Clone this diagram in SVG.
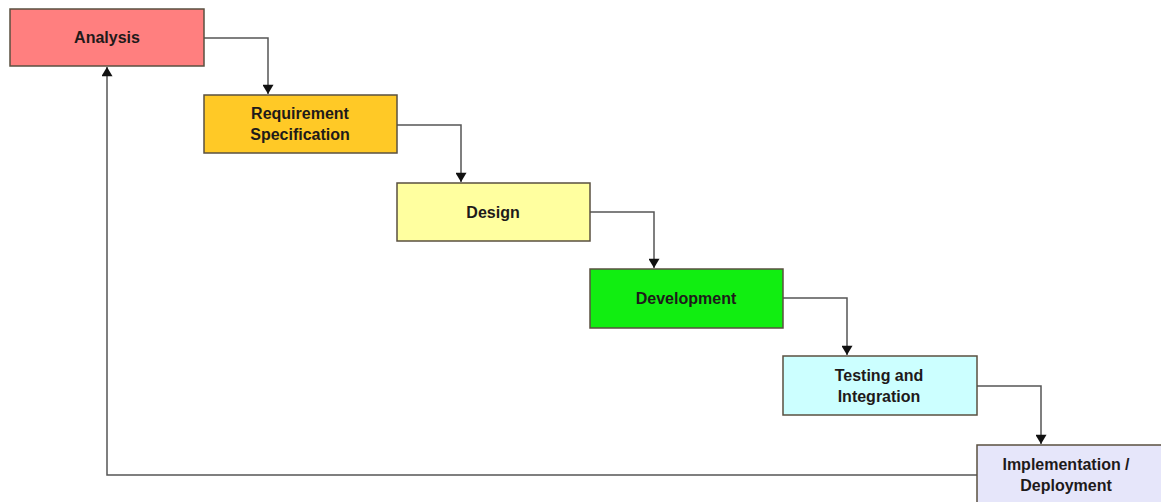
<svg xmlns="http://www.w3.org/2000/svg" width="1161" height="502" viewBox="0 0 1161 502">
<defs>
<style>
.box{stroke:#5a5040;stroke-width:1.5}
.lbl{font-family:"Liberation Sans",Arial,sans-serif;font-weight:bold;font-size:16px;fill:#1e1a1a;text-anchor:middle}
.con{fill:none;stroke:#555;stroke-width:1.5}
</style>
<marker id="ah" viewBox="0 0 10 12" refX="10" refY="6" markerWidth="12" markerHeight="11" orient="auto" markerUnits="userSpaceOnUse"><path d="M0,0 L10,6 L0,12 Z" fill="#111"/></marker>
</defs>
<rect width="1161" height="502" fill="#fff"/>
<g id="connectors">
<path class="con" d="M204,38 H268 V94" marker-end="url(#ah)"/>
<path class="con" d="M397,125 H461 V182" marker-end="url(#ah)"/>
<path class="con" d="M590,212 H654 V268" marker-end="url(#ah)"/>
<path class="con" d="M783,298 H847 V355" marker-end="url(#ah)"/>
<path class="con" d="M977,386 H1041 V444" marker-end="url(#ah)"/>
<path class="con" d="M977,475 H107 V67" marker-end="url(#ah)"/>
</g>
<g id="analysis"><rect class="box" x="10" y="9" width="194" height="57" fill="#ff7f7f"/><text class="lbl" x="107" y="43">Analysis</text></g>
<g id="requirement"><rect class="box" x="204" y="95" width="193" height="58" fill="#ffc926"/><text class="lbl" x="300" y="119">Requirement</text><text class="lbl" x="300" y="140">Specification</text></g>
<g id="design"><rect class="box" x="397" y="183" width="193" height="58" fill="#ffff9f"/><text class="lbl" x="493" y="218">Design</text></g>
<g id="development"><rect class="box" x="590" y="269" width="193" height="59" fill="#11ee11"/><text class="lbl" x="686" y="304">Development</text></g>
<g id="testing"><rect class="box" x="783" y="356" width="194" height="59" fill="#ccffff"/><text class="lbl" x="879" y="381">Testing and</text><text class="lbl" x="879" y="402">Integration</text></g>
<g id="implementation"><rect class="box" x="977" y="445" width="193" height="60" fill="#e6e6fa"/><text class="lbl" x="1066" y="470">Implementation /</text><text class="lbl" x="1066" y="491">Deployment</text></g>
</svg>
